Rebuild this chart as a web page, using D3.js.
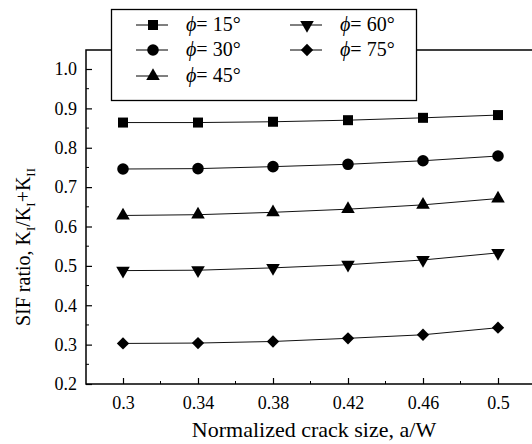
<!DOCTYPE html>
<html>
<head>
<meta charset="utf-8">
<script src="https://cdn.jsdelivr.net/npm/d3@7"></script>
<style>
  body { margin: 0; background: #fff; }
  svg text { font-family: "Liberation Serif", "Times New Roman", serif; fill: #000; }
</style>
</head>
<body>
<div id="chart"></div>
<script>
  // values
  const crackSize = [0.30, 0.34, 0.38, 0.42, 0.46, 0.50];
  const xTickLabels = ["0.3", "0.34", "0.38", "0.42", "0.46", "0.5"];
  const yTicks = [0.2, 0.3, 0.4, 0.5, 0.6, 0.7, 0.8, 0.9, 1.0];
  const phi15 = [0.864, 0.864, 0.866, 0.870, 0.876, 0.883];
  const phi30 = [0.746, 0.747, 0.752, 0.758, 0.767, 0.779];
  const phi45 = [0.628, 0.630, 0.636, 0.644, 0.655, 0.671];
  const phi60 = [0.488, 0.489, 0.495, 0.503, 0.515, 0.533];
  const phi75 = [0.303, 0.304, 0.308, 0.316, 0.325, 0.343];
  const seriesNames = ["15", "30", "45", "60", "75"];

  const width = 532;
  const height = 444;
  const margin = { top: 50, left: 86, bottom: 384 };
  const serif = "'Liberation Serif', 'Times New Roman', serif";

  const series = [
    { name: seriesNames[0], values: phi15, symbol: d3.symbolSquare, size: 100, rotate: 0 },
    { name: seriesNames[1], values: phi30, symbol: d3.symbolCircle, size: 105, rotate: 0 },
    { name: seriesNames[2], values: phi45, symbol: d3.symbolTriangle, size: 80, rotate: 0 },
    { name: seriesNames[3], values: phi60, symbol: d3.symbolTriangle, size: 80, rotate: 180 },
    { name: seriesNames[4], values: phi75, symbol: d3.symbolSquare, size: 76, rotate: 45 }
  ];

  const svg = d3.select("#chart")
    .append("svg")
    .attr("width", width)
    .attr("height", height)
    .attr("font-family", serif);

  // Scales
  const x = d3.scaleLinear().domain([0.3, 0.5]).range([123, 498]);
  const y = d3.scaleLinear().domain([0.2, 1.0]).range([margin.bottom, 69]);

  // Axes: ticks point inward
  const yAxis = svg.append("g")
    .attr("transform", `translate(${margin.left},0)`)
    .call(d3.axisLeft(y).tickValues(yTicks).tickFormat(d3.format(".1f"))
      .tickSizeInner(-6).tickSizeOuter(0).tickPadding(9));

  const xAxis = svg.append("g")
    .attr("transform", `translate(0,${margin.bottom})`)
    .call(d3.axisBottom(x).tickValues(crackSize).tickFormat((d, i) => xTickLabels[i])
      .tickSizeInner(-6).tickSizeOuter(0).tickPadding(12));

  [yAxis, xAxis].forEach(g => {
    g.attr("font-family", serif).attr("font-size", 18);
    g.select(".domain").remove();
    g.selectAll("line").attr("stroke", "#000").attr("stroke-width", 1.2);
    g.selectAll("text").attr("fill", "#000");
  });

  // minor ticks
  svg.append("g").selectAll("line")
    .data(d3.range(0.25, 1.0, 0.1))
    .enter().append("line")
    .attr("x1", margin.left).attr("x2", margin.left + 3)
    .attr("y1", d => y(d)).attr("y2", d => y(d))
    .attr("stroke", "#000");
  svg.append("g").selectAll("line")
    .data(d3.range(0.32, 0.55, 0.04))
    .enter().append("line")
    .attr("x1", d => x(d)).attr("x2", d => x(d))
    .attr("y1", margin.bottom).attr("y2", margin.bottom - 3)
    .attr("stroke", "#000");

  // frame
  svg.append("path")
    .attr("d", `M${width},${margin.top}H${margin.left}V${margin.bottom}H${width}`)
    .attr("fill", "none")
    .attr("stroke", "#000")
    .attr("stroke-width", 1.5);

  // lines and markers
  const line = d3.line().x((d, i) => x(crackSize[i])).y(d => y(d));
  series.forEach(s => {
    svg.append("path")
      .attr("d", line(s.values))
      .attr("fill", "none")
      .attr("stroke", "#111")
      .attr("stroke-width", 1);
    svg.append("g").selectAll("path")
      .data(s.values)
      .enter().append("path")
      .attr("d", d3.symbol().type(s.symbol).size(s.size))
      .attr("transform", (d, i) => `translate(${x(crackSize[i])},${y(d)}) rotate(${s.rotate})`)
      .attr("fill", "#000");
  });

  // legend
  const legend = svg.append("g");
  legend.append("rect")
    .attr("x", 111.5).attr("y", 9.5)
    .attr("width", 305).attr("height", 91)
    .attr("fill", "#fff")
    .attr("stroke", "#000")
    .attr("stroke-width", 1.3);

  const legendPos = [[136, 25], [136, 50], [136, 76], [290, 25], [290, 50]];
  series.forEach((s, i) => {
    const [lx, ly] = legendPos[i];
    legend.append("line")
      .attr("x1", lx).attr("x2", lx + 32)
      .attr("y1", ly).attr("y2", ly)
      .attr("stroke", "#000");
    legend.append("path")
      .attr("d", d3.symbol().type(s.symbol).size(s.size))
      .attr("transform", `translate(${lx + 17},${ly}) rotate(${s.rotate})`)
      .attr("fill", "#000");
    const t = legend.append("text")
      .attr("x", lx + 50).attr("y", ly + 6)
      .attr("font-size", 20);
    t.append("tspan").attr("font-style", "italic").text("\u03d5");
    t.append("tspan").text("= " + s.name + "\u00b0");
  });

  // axis titles
  svg.append("text")
    .attr("x", 314).attr("y", 437)
    .attr("text-anchor", "middle")
    .attr("font-size", 22)
    .text("Normalized crack size, a/W");

  const yt = svg.append("text")
    .attr("transform", "translate(30,247) rotate(-90)")
    .attr("text-anchor", "middle")
    .attr("font-size", 20);
  yt.append("tspan").text("SIF ratio, K");
  yt.append("tspan").attr("dy", 5).attr("font-size", 13).text("I");
  yt.append("tspan").attr("dy", -5).text("/K");
  yt.append("tspan").attr("dy", 5).attr("font-size", 13).text("I");
  yt.append("tspan").attr("dy", -5).text("+K");
  yt.append("tspan").attr("dy", 5).attr("font-size", 13).text("II");
</script>
</body>
</html>
